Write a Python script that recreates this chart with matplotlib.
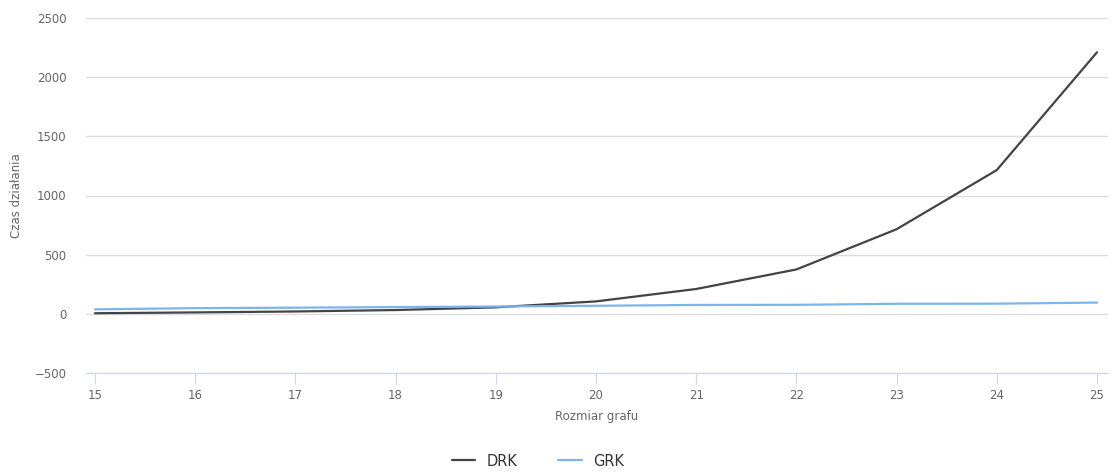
import matplotlib.pyplot as plt

sizes = [15, 16, 17, 18, 19, 20, 21, 22, 23, 24, 25]
drk = [5, 12, 20, 32, 55, 105, 210, 375, 715, 1215, 2210]
grk = [38, 48, 52, 57, 62, 68, 75, 76, 85, 86, 95]
yticks = [-500, 0, 500, 1000, 1500, 2000, 2500]

plt.rcParams['font.family'] = ['DejaVu Sans']

fig = plt.figure(figsize=(11.16, 4.72), dpi=100)
ax = fig.add_axes([86 / 1116, 1 - 373 / 472, (1108 - 86) / 1116, (373 - 18) / 472])

ax.plot(sizes, drk, color='#434348', lw=1.6, label='DRK', solid_capstyle='round')
ax.plot(sizes, grk, color='#7cb5ec', lw=1.6, label='GRK', solid_capstyle='round')

ax.set_xlim(14.91, 25.11)
ax.set_ylim(-500, 2500)
ax.set_xticks(sizes)
ax.set_yticks(yticks)

ax.grid(axis='y', color='#dcdcdc', lw=1)
ax.set_axisbelow(True)
for s in ['top', 'right', 'left']:
    ax.spines[s].set_visible(False)
ax.spines['bottom'].set_color('#ccd6eb')
ax.tick_params(axis='x', colors='#ccd6eb', length=8, labelcolor='#666666', labelsize=8.5)
ax.tick_params(axis='y', length=0, labelcolor='#666666', labelsize=8.5, pad=14)

ax.set_xlabel('Rozmiar grafu', color='#666666', fontsize=8.5, labelpad=6)
ax.set_ylabel('Czas działania', color='#666666', fontsize=8.5, labelpad=8)

leg = fig.legend(loc='center', bbox_to_anchor=(0.482, 1 - 461 / 472), ncol=2, frameon=False,
                 fontsize=10.5, handlelength=1.6, columnspacing=2.8)
for t in leg.get_texts():
    t.set_color('#333333')

fig.savefig('out.png', dpi=100)
